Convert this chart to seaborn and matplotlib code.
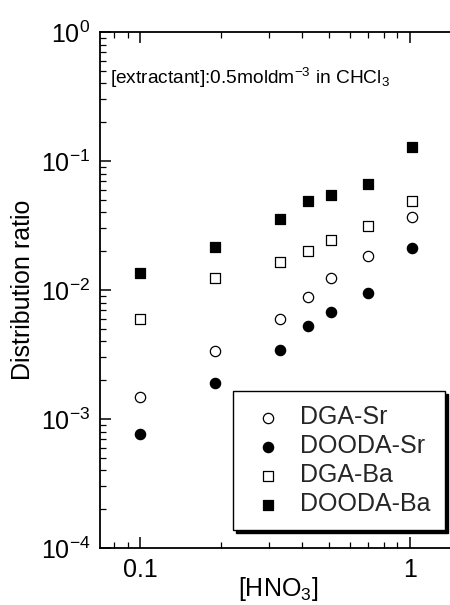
import matplotlib
matplotlib.use("Agg")
import matplotlib.pyplot as plt
import seaborn as sns
import pandas as pd
from matplotlib.ticker import LogLocator, NullFormatter

sns.set_theme(style="ticks")
plt.rcParams['font.family'] = ['Liberation Sans', 'DejaVu Sans']
plt.rcParams['mathtext.fontset'] = 'custom'
plt.rcParams['mathtext.rm'] = 'Liberation Sans'
plt.rcParams['mathtext.it'] = 'Liberation Sans'
plt.rcParams['mathtext.default'] = 'regular'

# [HNO3] concentrations (mol dm^-3)
hno3 = [0.1, 0.19, 0.33, 0.42, 0.51, 0.70, 1.02]

# distribution ratios
dga_sr = [0.00148, 0.00337, 0.0060, 0.0088, 0.0124, 0.0184, 0.0368]
dooda_sr = [0.00077, 0.0019, 0.0034, 0.0053, 0.0068, 0.0095, 0.0212]
dga_ba = [0.0060, 0.0124, 0.0165, 0.0201, 0.0244, 0.0313, 0.049]
dooda_ba = [0.0136, 0.0216, 0.0355, 0.049, 0.0545, 0.0663, 0.128]

series = [
    ("DGA-Sr", dga_sr, "o", "white"),
    ("DOODA-Sr", dooda_sr, "o", "black"),
    ("DGA-Ba", dga_ba, "s", "white"),
    ("DOODA-Ba", dooda_ba, "s", "black"),
]

fig = plt.figure(figsize=(4.5, 6.05), dpi=100)
ax = fig.add_axes([0.2222, 0.0942, 0.7778, 0.8529])

for name, vals, mk, fc in series:
    df = pd.DataFrame({"x": hno3, "y": vals})
    sns.scatterplot(data=df, x="x", y="y", ax=ax, marker=mk, s=55,
                    facecolor=fc, edgecolor="black", linewidth=0.9,
                    label=name, zorder=3)

ax.set_xscale("log")
ax.set_yscale("log")
ax.set_xlim(0.0711, 1.41)
ax.set_ylim(1e-4, 1)

ax.xaxis.set_minor_locator(LogLocator(base=10, subs=range(2, 10)))
ax.xaxis.set_minor_formatter(NullFormatter())
ax.set_xticks([0.1, 1])
ax.set_xticklabels(["0.1", "1"])
ax.yaxis.set_major_locator(LogLocator(base=10))
ax.yaxis.set_minor_locator(LogLocator(base=10, subs=range(2, 10)))
ax.yaxis.set_minor_formatter(NullFormatter())

ax.tick_params(which="both", direction="in", top=True, right=False,
               colors="black", labelsize=18)
ax.tick_params(which="major", length=8, width=1.1, pad=7)
ax.tick_params(which="minor", length=4.5, width=0.9)
for side in ["left", "bottom", "top"]:
    ax.spines[side].set_color("black")
    ax.spines[side].set_linewidth(1.3)
ax.spines["right"].set_visible(False)

ax.set_xlabel("[HNO$_3$]", fontsize=18, color="black")
ax.xaxis.set_label_coords(0.51, -0.053)
ax.set_ylabel("Distribution ratio", fontsize=18, color="black", labelpad=4)

ax.text(0.03, 0.91, "[extractant]:0.5moldm$^{-3}$ in CHCl$_3$",
        transform=ax.transAxes, fontsize=13.8, color="black", va="center")

leg = ax.legend(loc="lower right", bbox_to_anchor=(0.985, 0.035), fontsize=18,
                frameon=True, fancybox=False, edgecolor="black",
                shadow={"color": "black", "alpha": 1}, handletextpad=0.45,
                borderpad=0.55, labelspacing=0.2, handlelength=1.7,
                borderaxespad=0)
leg.get_frame().set_linewidth(1.0)

fig.savefig("out.png", dpi=100)
